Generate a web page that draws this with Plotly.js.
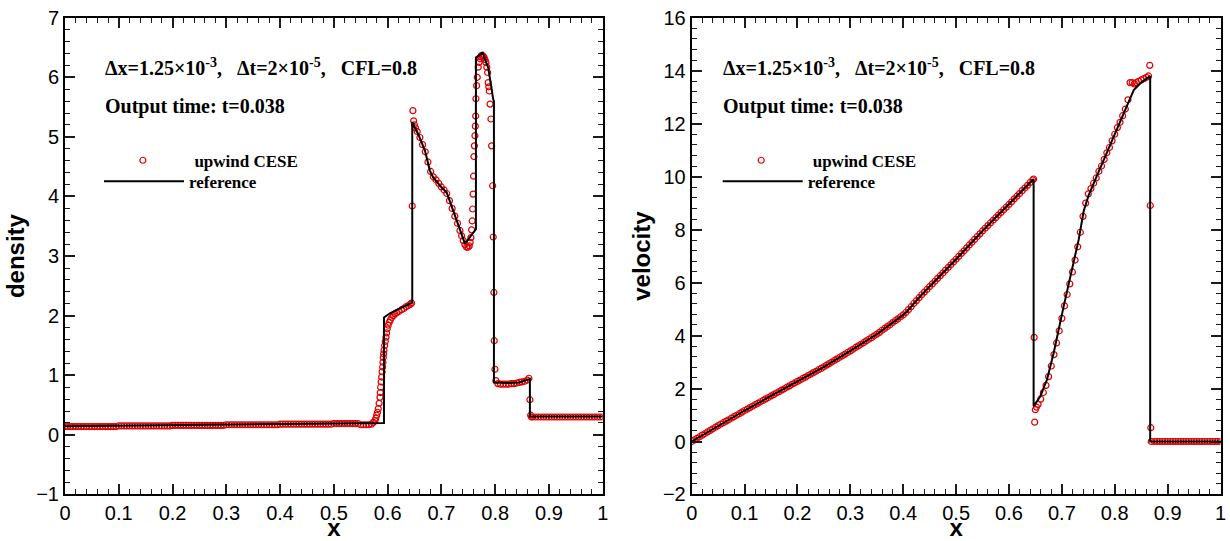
<!DOCTYPE html>
<html><head><meta charset="utf-8">
<script src="https://cdn.plot.ly/plotly-3.0.1.min.js"></script>
<style>html,body{margin:0;padding:0;background:#fff;}#chart{width:1230px;height:541px;}</style>
</head><body><div id="chart"></div>
<script>
// ---------- density: reference solution (black line) ----------
const densRefX = [0,0.1,0.2,0.3,0.4,0.5,0.5932,0.5932,0.6043,0.62,0.6458,0.6458,0.6569,0.6694,0.6787,0.6848,0.7005,0.7098,0.7220,0.7345,0.7438,0.7642,0.7642,0.7767,0.7871,0.7964,0.7977,0.7977,0.8213,0.845,0.8646,0.8646,1];
const densRefY = [0.145,0.155,0.165,0.172,0.18,0.19,0.20,1.97,2.04,2.11,2.22,5.25,5.045,4.77,4.43,4.32,4.15,4.07,3.76,3.45,3.21,3.45,6.33,6.41,6.16,5.63,5.6,0.884,0.87,0.88,0.94,0.31,0.31];

// ---------- density: upwind CESE (red circles) ----------
const densCeseX = [
0,0.005,0.01,0.015,0.02,0.025,0.03,0.035,0.04,0.045,0.05,0.055,0.06,0.065,0.07,0.075,0.08,0.085,0.09,0.095,
0.1,0.105,0.11,0.115,0.12,0.125,0.13,0.135,0.14,0.145,0.15,0.155,0.16,0.165,0.17,0.175,0.18,0.185,0.19,0.195,
0.2,0.205,0.21,0.215,0.22,0.225,0.23,0.235,0.24,0.245,0.25,0.255,0.26,0.265,0.27,0.275,0.28,0.285,0.29,0.295,
0.3,0.305,0.31,0.315,0.32,0.325,0.33,0.335,0.34,0.345,0.35,0.355,0.36,0.365,0.37,0.375,0.38,0.385,0.39,0.395,
0.4,0.405,0.41,0.415,0.42,0.425,0.43,0.435,0.44,0.445,0.45,0.455,0.46,0.465,0.47,0.475,0.48,0.485,0.49,0.495,
0.5,0.505,0.51,0.515,0.52,0.525,0.53,0.535,0.54,0.545,0.55,0.555,0.56,0.565,
0.570,0.5735,0.5764,0.5780,0.5796,0.5811,0.5826,0.5842,0.5857,0.5863,0.5870,0.5880,0.5889,0.5898,0.5907,0.5913,0.5919,0.5926,0.5932,
0.5945,0.5957,0.5969,0.5981,0.5993,0.6011,0.6030,0.6052,0.6075,0.6105,0.6136,0.617,0.621,0.6261,0.630,0.634,0.6383,0.642,0.6445,
0.6458,0.6470,0.6484,0.650,0.652,0.655,0.66,0.665,0.67,0.675,0.68,0.685,0.69,0.695,0.70,0.705,0.71,0.715,0.72,0.725,0.73,
0.7345,0.7376,0.7406,0.7438,0.7469,0.7495,0.7518,0.7535,0.7549,0.7562,0.7573,0.7581,0.7590,0.7598,0.7605,0.7614,0.7624,0.7631,0.7637,0.7642,
0.7655,0.7667,0.7685,0.7700,0.7717,0.7733,0.7748,0.7770,0.7791,0.7810,0.7828,0.7845,0.7860,0.7871,0.7881,0.7890,0.7905,0.7921,0.7934,0.7953,
0.7964,0.7977,0.7983,0.7996,0.8014,0.805,0.81,0.815,0.82,0.825,0.83,0.835,0.84,0.845,0.85,0.855,0.86,0.8628,0.8646,0.8660,0.8675,
0.87,0.875,0.88,0.885,0.89,0.895,0.9,0.905,0.91,0.915,0.92,0.925,0.93,0.935,0.94,0.945,0.95,0.955,0.96,0.965,0.97,0.975,0.98,0.985,0.99,0.995,1.0];
const densCeseY = [
0.14,0.14,0.14,0.14,0.14,0.14,0.14,0.14,0.14,0.14,0.14,0.14,0.14,0.14,0.14,0.14,0.14,0.14,0.14,0.14,
0.15,0.15,0.15,0.15,0.15,0.15,0.15,0.15,0.15,0.15,0.15,0.15,0.15,0.15,0.15,0.15,0.15,0.15,0.15,0.15,
0.16,0.16,0.16,0.16,0.16,0.16,0.16,0.16,0.16,0.16,0.16,0.16,0.16,0.16,0.16,0.16,0.16,0.16,0.16,0.16,
0.17,0.17,0.17,0.17,0.17,0.17,0.17,0.17,0.17,0.17,0.17,0.17,0.17,0.17,0.17,0.17,0.17,0.17,0.17,0.17,
0.18,0.18,0.18,0.18,0.18,0.18,0.18,0.18,0.18,0.18,0.18,0.18,0.18,0.18,0.18,0.18,0.18,0.18,0.18,0.18,
0.19,0.19,0.19,0.19,0.19,0.19,0.19,0.19,0.19,0.19,0.17,0.17,0.17,0.17,
0.18,0.21,0.24,0.28,0.33,0.38,0.44,0.53,0.63,0.71,0.80,0.89,0.97,1.06,1.14,1.22,1.30,1.36,1.42,
1.50,1.57,1.64,1.71,1.78,1.84,1.89,1.93,1.97,2.00,2.03,2.05,2.07,2.10,2.12,2.15,2.17,2.19,2.21,
3.84,5.44,5.27,5.20,5.15,5.09,4.99,4.87,4.75,4.58,4.42,4.33,4.28,4.22,4.16,4.11,4.05,3.93,3.80,3.67,3.55,
3.43,3.34,3.26,3.19,3.15,3.15,3.17,3.23,3.31,3.44,3.59,3.79,4.04,4.34,4.67,4.85,5.02,5.18,5.35,5.64,
5.86,6.00,6.17,6.25,6.31,6.35,6.37,6.36,6.34,6.30,6.25,6.17,6.08,5.91,5.84,5.77,5.55,5.30,4.85,4.18,
3.32,2.39,1.58,1.10,0.91,0.86,0.85,0.85,0.85,0.85,0.86,0.86,0.87,0.88,0.89,0.90,0.92,0.95,0.59,0.33,0.30,
0.30,0.30,0.30,0.30,0.30,0.30,0.30,0.30,0.30,0.30,0.30,0.30,0.30,0.30,0.30,0.30,0.30,0.30,0.30,0.30,0.30,0.30,0.30,0.30,0.30,0.30,0.30];

// ---------- velocity: reference solution ----------
const velRefX = [0,0.05,0.1,0.15,0.2,0.25,0.3,0.35,0.4,0.407,0.432,0.47,0.5,0.55,0.6,0.6466,0.6466,0.6593,0.672,0.6845,0.7034,0.7223,0.7318,0.7413,0.7507,0.7634,0.80,0.8359,0.85,0.867,0.867,1];
const velRefY = [0,0.6,1.17,1.72,2.27,2.82,3.42,4.05,4.78,4.91,5.48,6.26,6.88,7.95,8.95,9.91,1.33,1.71,2.34,3.34,5.10,6.70,7.62,8.70,9.30,9.90,11.60,13.27,13.55,13.80,0,0];

// ---------- velocity: upwind CESE ----------
const velCeseX = [
0,0.005,0.01,0.015,0.02,0.025,0.03,0.035,0.04,0.045,0.05,0.055,0.06,0.065,0.07,0.075,0.08,0.085,0.09,0.095,
0.1,0.105,0.11,0.115,0.12,0.125,0.13,0.135,0.14,0.145,0.15,0.155,0.16,0.165,0.17,0.175,0.18,0.185,0.19,0.195,
0.2,0.205,0.21,0.215,0.22,0.225,0.23,0.235,0.24,0.245,0.25,0.255,0.26,0.265,0.27,0.275,0.28,0.285,0.29,0.295,
0.3,0.305,0.31,0.315,0.32,0.325,0.33,0.335,0.34,0.345,0.35,0.355,0.36,0.365,0.37,0.375,0.38,0.385,0.39,0.395,
0.4,0.405,0.41,0.415,0.42,0.425,0.43,0.435,0.44,0.445,0.45,0.455,0.46,0.465,0.47,0.475,0.48,0.485,0.49,0.495,
0.5,0.505,0.51,0.515,0.52,0.525,0.53,0.535,0.54,0.545,0.55,0.555,0.56,0.565,0.57,0.575,0.58,0.585,0.59,0.595,
0.6,0.605,0.61,0.615,0.62,0.625,0.63,0.635,0.64,0.645,
0.6466,0.6476,0.6486,0.6498,0.652,0.655,0.66,0.665,0.67,0.675,0.68,0.685,0.69,0.695,0.70,0.705,0.71,0.715,0.72,0.725,
0.73,0.735,0.74,0.745,0.75,0.755,0.76,0.765,0.77,0.775,0.78,0.785,0.79,0.795,0.80,0.805,0.81,0.815,0.82,0.825,
0.829,0.833,0.837,0.841,0.845,0.85,0.855,0.86,0.864,0.8662,0.8672,0.8682,0.869,
0.875,0.88,0.885,0.89,0.895,0.9,0.905,0.91,0.915,0.92,0.925,0.93,0.935,0.94,0.945,0.95,0.955,0.96,0.965,0.97,0.975,0.98,0.985,0.99,0.995,1.0];
const velCeseY = [
0.00,0.06,0.12,0.18,0.24,0.30,0.36,0.42,0.48,0.54,0.60,0.66,0.71,0.77,0.82,0.88,0.94,0.99,1.05,1.11,
1.17,1.22,1.28,1.33,1.39,1.44,1.50,1.55,1.61,1.66,1.72,1.77,1.83,1.88,1.94,1.99,2.05,2.10,2.16,2.21,
2.27,2.32,2.38,2.43,2.49,2.54,2.60,2.65,2.71,2.76,2.82,2.88,2.94,3.00,3.06,3.12,3.18,3.24,3.30,3.36,
3.42,3.48,3.55,3.61,3.67,3.73,3.80,3.86,3.92,3.99,4.05,4.12,4.20,4.27,4.34,4.41,4.49,4.56,4.63,4.71,
4.78,4.87,4.98,5.09,5.21,5.32,5.43,5.54,5.64,5.74,5.85,5.95,6.05,6.16,6.26,6.36,6.47,6.57,6.67,6.78,
6.88,6.99,7.10,7.20,7.31,7.42,7.52,7.63,7.74,7.84,7.95,8.05,8.15,8.25,8.35,8.45,8.55,8.65,8.75,8.85,
8.95,9.05,9.16,9.26,9.36,9.47,9.57,9.67,9.78,9.88,
9.91,3.93,0.73,1.20,1.30,1.40,1.60,1.85,2.12,2.45,2.85,3.28,3.72,4.18,4.65,5.12,5.55,5.95,6.40,6.85,
7.35,7.90,8.50,9.00,9.35,9.55,9.75,9.95,10.20,10.40,10.65,10.90,11.10,11.35,11.60,11.85,12.05,12.30,12.55,12.90,
13.55,13.55,13.50,13.55,13.60,13.65,13.70,13.75,13.80,14.20,8.91,0.52,0.00,
0,0,0,0,0,0,0,0,0,0,0,0,0,0,0,0,0,0,0,0,0,0,0,0,0,0];

const seriesNames = ['upwind CESE', 'reference'];
const infoLine1 = 'Δx=1.25×10<sup>-3</sup>,\u00a0\u00a0\u00a0Δt=2×10<sup>-5</sup>,\u00a0\u00a0\u00a0CFL=0.8';
const infoLine2 = 'Output time: t=0.038';

const RED = 'rgb(225,0,0)';
const markerStyle = {symbol:'circle-open', size:6, color:RED, line:{width:1.2, color:RED}};
const lineStyle = {color:'black', width:2};

const traces = [
  {x:densCeseX, y:densCeseY, xaxis:'x', yaxis:'y', mode:'markers', name:seriesNames[0], marker:markerStyle, legend:'legend'},
  {x:densRefX, y:densRefY, xaxis:'x', yaxis:'y', mode:'lines', name:seriesNames[1], line:lineStyle, legend:'legend2'},
  {x:velCeseX, y:velCeseY, xaxis:'x2', yaxis:'y2', mode:'markers', name:seriesNames[0], marker:markerStyle, legend:'legend3'},
  {x:velRefX, y:velRefY, xaxis:'x2', yaxis:'y2', mode:'lines', name:seriesNames[1], line:lineStyle, legend:'legend4'}
];

const tickFont = {family:'Liberation Sans, Arial, sans-serif', size:20, color:'black'};
const titleFont = {family:'Liberation Sans, Arial, sans-serif', size:24, color:'black', weight:'bold'};
const TICK = 'rgb(28,28,28)';
function xAxis(domain, anchor) {
  return {domain:domain, anchor:anchor, range:[0,1], dtick:0.1,
    ticks:'inside', ticklen:10, tickwidth:2, tickcolor:TICK,
    showline:true, linewidth:2, linecolor:'black', mirror:'ticks',
    showgrid:false, zeroline:false, tickfont:tickFont,
    minor:{dtick:0.02, ticks:'inside', ticklen:5, tickwidth:1, tickcolor:TICK, showgrid:false},
    title:{text:'x', font:titleFont, standoff:6}};
}
function yAxis(domain, anchor, range, majorStep, minorStep, title) {
  return {domain:domain, anchor:anchor, range:range, tick0:0, dtick:majorStep,
    ticks:'inside', ticklen:10, tickwidth:2, tickcolor:TICK,
    showline:true, linewidth:2, linecolor:'black', mirror:'ticks',
    showgrid:false, zeroline:false, tickfont:tickFont,
    minor:{dtick:minorStep, ticks:'inside', ticklen:5, tickwidth:1, tickcolor:TICK, showgrid:false},
    title:{text:title, font:titleFont, standoff:5}};
}
const legendFont = {family:'Liberation Serif, Times New Roman, serif', size:17, color:'black', weight:'bold'};
function leg(x, y, w) {
  return {x:x, y:y, xanchor:'left', yanchor:'middle', xref:'paper', yref:'paper', bgcolor:'rgba(0,0,0,0)', borderwidth:0, font:legendFont, itemwidth:w};
}
const annFont = {family:'Liberation Serif, Times New Roman, serif', size:20, color:'black', weight:'bold'};
function ann(x, y, text) {
  return {x:x, y:y, xref:'paper', yref:'paper', xanchor:'left', yanchor:'middle', showarrow:false, text:text, font:annFont, align:'left'};
}
const yDom = [0.0860, 0.9673];
const layout = {
  width:1230, height:541, margin:{l:0, r:0, t:0, b:0, autoexpand:false},
  showlegend:true,
  xaxis: xAxis([0.05285, 0.4900], 'y'),
  yaxis: yAxis(yDom, 'x', [-1,7], 1, 0.2, 'density'),
  xaxis2: xAxis([0.56236, 0.99228], 'y2'),
  yaxis2: yAxis(yDom, 'x2', [-2,16], 2, 0.4, 'velocity'),
  legend: leg(0.0743, 0.7030, 93),
  legend2: leg(0.0805, 0.6641, 80),
  legend3: leg(0.5770, 0.7030, 93),
  legend4: leg(0.5835, 0.6641, 80),
  annotations: [
    ann(0.0837, 0.8762, infoLine1), ann(0.0837, 0.8028, infoLine2),
    ann(0.5862, 0.8762, infoLine1), ann(0.5862, 0.8028, infoLine2)
  ]
};
Plotly.newPlot('chart', traces, layout, {displayModeBar:false});
</script>
</body></html>
